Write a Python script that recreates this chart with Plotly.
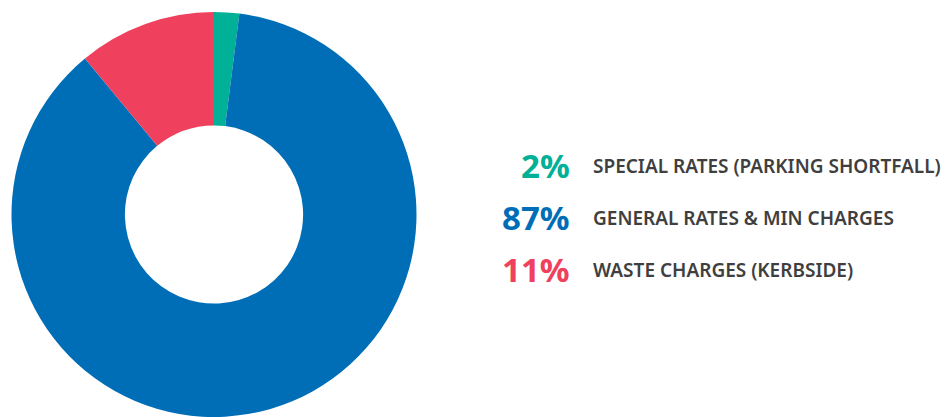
import plotly.graph_objects as go

labels = ["SPECIAL RATES (PARKING SHORTFALL)", "GENERAL RATES & MIN CHARGES", "WASTE CHARGES (KERBSIDE)"]
values = [2, 87, 11]
colors = ["#00B097", "#006EB7", "#EF405D"]

W, H = 945, 417

fig = go.Figure()
fig.add_trace(go.Pie(
    labels=labels, values=values, sort=False, direction="clockwise", rotation=0,
    hole=0.44, marker=dict(colors=colors, line=dict(width=0)),
    textinfo="none", hoverinfo="label+percent", showlegend=False,
    domain=dict(x=[11.5 / W, 416.5 / W], y=[0, 1 - 12 / H]),
))

row_y = [165, 217, 269]
for lab, val, col, yy in zip(labels, values, colors, row_y):
    fig.add_annotation(
        x=572 / W, y=1 - yy / H, xref="paper", yref="paper",
        text=f"<b>{val}%</b>", showarrow=False, xanchor="right", yanchor="middle",
        font=dict(family="Noto Sans", size=33, color=col),
    )
    fig.add_annotation(
        x=591 / W, y=1 - (yy + 1) / H, xref="paper", yref="paper",
        text=lab, showarrow=False, xanchor="left", yanchor="middle",
        font=dict(family="Noto Sans", size=19, color="#3F3F3F", weight=600),
    )

fig.update_layout(
    width=W, height=H, margin=dict(l=0, r=0, t=0, b=0),
    paper_bgcolor="white", plot_bgcolor="white",
)
fig.write_html("out.html")
